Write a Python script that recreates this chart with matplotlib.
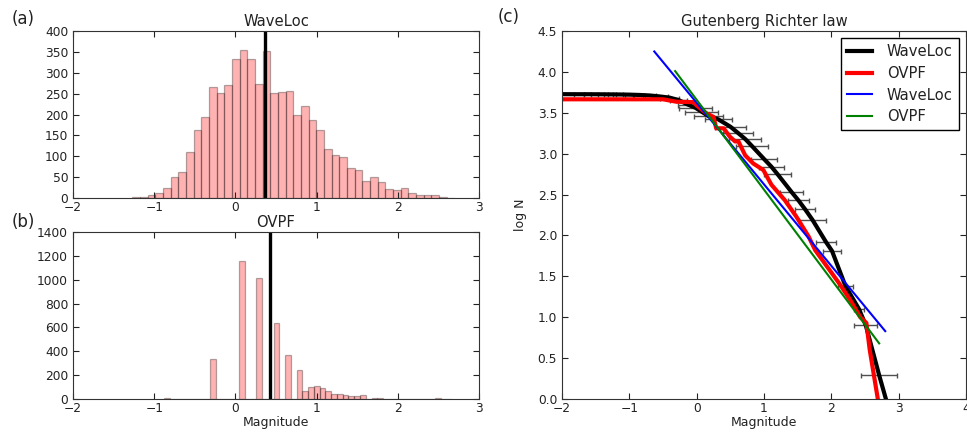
import numpy as np
import matplotlib.pyplot as plt
from matplotlib.ticker import MultipleLocator

# (a) WaveLoc magnitude histogram
wl_bin_start = -1.27
wl_bin_width = 0.0944
wl_counts = [3, 3, 6, 13, 23, 51, 62, 109, 164, 193, 267, 251, 271, 334, 354, 334,
             272, 352, 251, 254, 256, 199, 221, 186, 162, 118, 103, 97, 71, 66,
             41, 51, 38, 22, 18, 24, 11, 6, 6, 6, 2, 1]
wl_mc = 0.37

# (b) OVPF magnitude histogram
ovpf_bin_start = -0.88
ovpf_bin_width = 0.071
ovpf_counts = [11, 0, 0, 0, 0, 0, 0, 0, 335, 0, 0, 0, 0, 1155, 0, 0, 1012, 0, 0, 637,
               0, 371, 0, 245, 63, 100, 108, 95, 67, 45, 45, 32, 27, 28, 34, 0,
               11, 11, 3, 0, 4, 4, 3, 3, 2, 0, 0, 6, 0, 0]
ovpf_mc = 0.42

# (c) Gutenberg Richter: cumulative curves
wl_mag = [-2.20, -1.75, -1.62, -1.42, -1.28, -1.15, -1.00, -0.85, -0.70, -0.55, -0.40,
          -0.27, -0.13, -0.02, 0.075, 0.175, 0.32, 0.50, 0.61, 0.72, 0.82, 1.00,
          1.11, 1.20, 1.41, 1.51, 1.61, 1.72, 1.92, 2.01, 2.21, 2.41, 2.51, 2.71, 2.81]
wl_logn = [3.728, 3.727, 3.727, 3.726, 3.725, 3.724, 3.722, 3.718, 3.712, 3.700, 3.685,
           3.656, 3.600, 3.562, 3.513, 3.460, 3.420, 3.330, 3.256, 3.180, 3.094, 2.935,
           2.840, 2.750, 2.530, 2.430, 2.320, 2.190, 1.920, 1.810, 1.380, 1.100, 0.905, 0.290, 0.0]
wl_err = [0.05, 0.07, 0.05, 0.04, 0.04, 0.05, 0.06, 0.08, 0.10, 0.13, 0.14,
          0.13, 0.15, 0.24, 0.245, 0.22, 0.20, 0.23, 0.22, 0.24, 0.24, 0.19,
          0.19, 0.195, 0.17, 0.155, 0.15, 0.195, 0.155, 0.14, 0.11, 0.08, 0.17, 0.27, 0.0]

ovpf_mag = [-2.0, -0.5, -0.3, -0.05, 0.0, 0.15, 0.25, 0.29, 0.40, 0.49, 0.57, 0.62,
            0.72, 0.84, 0.99, 1.11, 1.31, 1.48, 1.66, 1.76, 2.12, 2.28, 2.43, 2.52, 2.57, 2.69]
ovpf_logn = [3.665, 3.665, 3.635, 3.63, 3.59, 3.49, 3.45, 3.31, 3.31, 3.21, 3.15, 3.15,
             2.98, 2.88, 2.80, 2.62, 2.43, 2.23, 1.99, 1.82, 1.41, 1.21, 1.00, 0.93, 0.60, 0.0]

# fitted G-R lines
wl_fit_mag = [-0.63, 2.80]
wl_fit_logn = [4.25, 0.83]
ovpf_fit_mag = [-0.32, 2.71]
ovpf_fit_logn = [4.01, 0.68]

txt = '#222222'
plt.rcParams['font.family'] = 'DejaVu Sans'
plt.rcParams['text.color'] = txt
plt.rcParams['axes.labelcolor'] = txt
plt.rcParams['xtick.color'] = txt
plt.rcParams['ytick.color'] = txt
plt.rcParams['axes.edgecolor'] = '#333333'

fig = plt.figure(figsize=(9.67, 4.32), dpi=100)
ax_a = fig.add_axes([0.0755, 0.5417, 0.4199, 0.3865])
ax_b = fig.add_axes([0.0755, 0.0764, 0.4199, 0.3866])
ax_c = fig.add_axes([0.5812, 0.0764, 0.4178, 0.8518])


def style(ax):
    ax.tick_params(direction='in', top=True, right=True, length=4, width=0.8,
                   labelsize=8.8)
    ax.tick_params(axis='x', pad=2)
    ax.tick_params(axis='y', pad=3.5)


def hist(ax, start, width, counts, mc):
    left = start + width * np.arange(len(counts))
    ax.bar(left, counts, width=width, align='edge', color='red', edgecolor='black',
           linewidth=0.9, alpha=0.3)
    ax.axvline(mc, color='black', lw=2.4)
    ax.set_xlim(-2, 3)


hist(ax_a, wl_bin_start, wl_bin_width, wl_counts, wl_mc)
ax_a.set_ylim(0, 400)
ax_a.yaxis.set_major_locator(MultipleLocator(50))
ax_a.set_title('WaveLoc', fontsize=10.6, pad=3.5)
style(ax_a)

hist(ax_b, ovpf_bin_start, ovpf_bin_width, ovpf_counts, ovpf_mc)
ax_b.set_ylim(0, 1400)
ax_b.yaxis.set_major_locator(MultipleLocator(200))
ax_b.set_title('OVPF', fontsize=10.6, pad=3.5)
ax_b.set_xlabel('Magnitude', fontsize=9, labelpad=1)
style(ax_b)

# (c)
ax_c.errorbar(wl_mag[:-1], wl_logn[:-1], xerr=wl_err[:-1], fmt='none',
              ecolor='#505050', elinewidth=1.0, capsize=1.8, capthick=1.0)
ax_c.plot(wl_mag, wl_logn, color='black', lw=3, label='WaveLoc')
ax_c.plot(ovpf_mag, ovpf_logn, color='red', lw=3, label='OVPF')
ax_c.plot(wl_fit_mag, wl_fit_logn, color='blue', lw=1.5, label='WaveLoc')
ax_c.plot(ovpf_fit_mag, ovpf_fit_logn, color='green', lw=1.5, label='OVPF')
ax_c.set_xlim(-2, 4)
ax_c.set_ylim(0, 4.5)
ax_c.yaxis.set_major_locator(MultipleLocator(0.5))
ax_c.set_title('Gutenberg Richter law', fontsize=10.6, pad=3.5)
ax_c.set_xlabel('Magnitude', fontsize=9, labelpad=1)
ax_c.set_ylabel('log N', fontsize=9, labelpad=8)
style(ax_c)
leg = ax_c.legend(loc='upper right', fontsize=10.6, fancybox=False, framealpha=1,
                  edgecolor='black', handlelength=1.7, handletextpad=1.0,
                  labelspacing=0.45, borderaxespad=0.5)
leg.get_frame().set_linewidth(1.0)

fig.text(0.0124, 0.957, '(a)', fontsize=12, va='center', ha='left')
fig.text(0.0124, 0.486, '(b)', fontsize=12, va='center', ha='left')
fig.text(0.515, 0.960, '(c)', fontsize=12, va='center', ha='left')

fig.savefig('out.png', dpi=100)
